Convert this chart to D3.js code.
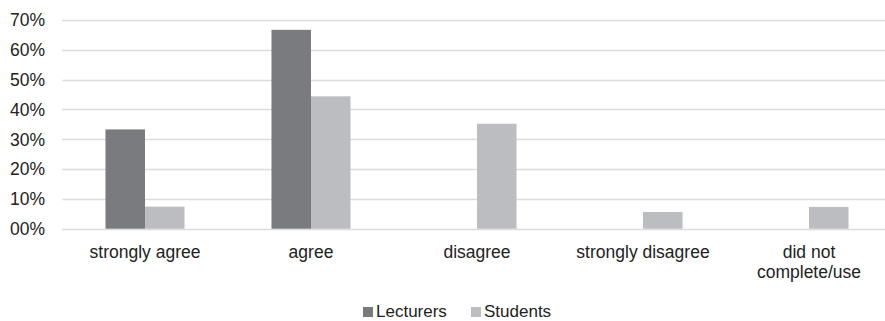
<!DOCTYPE html>
<html>
<head>
<meta charset="utf-8">
<script src="https://cdn.jsdelivr.net/npm/d3@7"></script>
<style>
  body { margin: 0; background: #fff; }
  svg text { font-family: "Liberation Sans", Arial, Helvetica, sans-serif; fill: #222; }
</style>
</head>
<body>
<svg id="chart"></svg>
<script>
const WIDTH = 885;
const HEIGHT = 321;

const categories = ["strongly agree", "agree", "disagree", "strongly disagree", "did not complete/use"];
const categoryLines = [["strongly agree"], ["agree"], ["disagree"], ["strongly disagree"], ["did not", "complete/use"]];
const seriesNames = ["Lecturers", "Students"];
const lecturers = [33.3, 66.7, 0, 0, 0];
const students = [7.4, 44.4, 35.2, 5.6, 7.3];
const yTicks = [0, 10, 20, 30, 40, 50, 60, 70];
const yTickLabels = ["00%", "10%", "20%", "30%", "40%", "50%", "60%", "70%"];
const colors = ["#7a7b7f", "#bcbdc1"];

const svg = d3.select("#chart").attr("width", WIDTH).attr("height", HEIGHT);

const x = d3.scaleBand().domain(categories).range([62, 892]).padding(0);
const xs = d3.scaleBand().domain(seriesNames).range([0, x.bandwidth()])
  .paddingOuter(1.1).paddingInner(0);
const y = d3.scaleLinear().domain([0, 70]).range([228.7, 20]);

// gridlines
svg.append("g").selectAll("line").data(yTicks).enter()
  .append("line")
  .attr("x1", 62).attr("x2", WIDTH)
  .attr("y1", d => Math.round(y(d)) + 0.5).attr("y2", d => Math.round(y(d)) + 0.5)
  .attr("stroke", "#dcdcdc").attr("stroke-width", 1.4);

// y labels
svg.append("g").selectAll("text").data(yTicks).enter()
  .append("text")
  .attr("x", 45).attr("y", d => y(d))
  .attr("dy", "0.36em")
  .attr("text-anchor", "end")
  .attr("font-size", 17.5)
  .text((d, i) => yTickLabels[i]);

// bars
const series = [lecturers, students];
series.forEach((vals, si) => {
  svg.append("g").selectAll("rect").data(vals).enter()
    .append("rect")
    .attr("x", (d, i) => x(categories[i]) + xs(seriesNames[si]))
    .attr("width", xs.bandwidth())
    .attr("y", d => y(d))
    .attr("height", d => y(0) - y(d))
    .attr("fill", colors[si]);
});

// category labels
const cl = svg.append("g").selectAll("text").data(categories).enter()
  .append("text")
  .attr("text-anchor", "middle")
  .attr("font-size", 17.5)
  .attr("x", d => x(d) + x.bandwidth() / 2)
  .attr("y", 258);
cl.each(function(d, i) {
  const t = d3.select(this);
  categoryLines[i].forEach((line, li) => {
    t.append("tspan")
      .attr("x", x(d) + x.bandwidth() / 2)
      .attr("dy", li === 0 ? 0 : 20)
      .text(line);
  });
});

// legend
const legendX = [363, 471];
const lg = svg.append("g").selectAll("g").data(seriesNames).enter()
  .append("g")
  .attr("transform", (d, i) => `translate(${legendX[i]},307)`);
lg.append("rect").attr("width", 10).attr("height", 10)
  .attr("fill", (d, i) => colors[i]);
lg.append("text").attr("x", 13).attr("y", 10)
  .attr("font-size", 17)
  .text(d => d);
</script>
</body>
</html>
